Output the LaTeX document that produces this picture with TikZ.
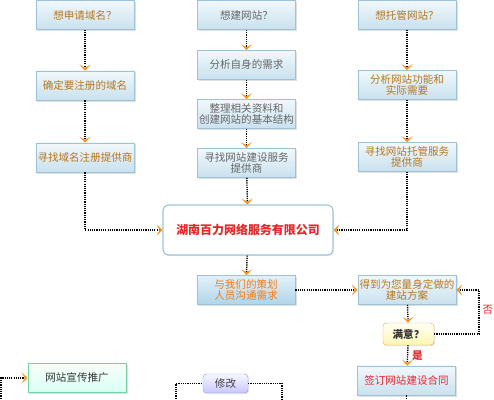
\documentclass[tikz,border=0pt]{standalone}
\usepackage{fontspec}
\setmainfont{Noto Sans CJK SC}
\usetikzlibrary{arrows.meta,shadows}

\definecolor{boxline}{HTML}{9EC3D9}
\definecolor{boxtop}{HTML}{F1F8FC}
\definecolor{boxbot}{HTML}{C8E1EE}
\definecolor{talktop}{HTML}{E3F1F9}
\definecolor{talkbot}{HTML}{AFD5EA}
\definecolor{tipc}{HTML}{F7931E}
\definecolor{brown}{HTML}{B8771C}
\definecolor{redtxt}{HTML}{E8262A}
\definecolor{orangetxt}{HTML}{F07A1A}

\tikzset{
  flow/.style={draw=black, line width=1.2pt, dash pattern=on 1pt off 0.9pt,
    -{Stealth[inset=2.6pt,length=5pt,width=9.5pt,color=tipc]}},
  dots/.style={draw=black, line width=1.2pt, dash pattern=on 1pt off 0.9pt},
  bluebox/.style={draw=boxline, top color=boxtop, bottom color=boxbot,
    minimum width=2.95cm, minimum height=0.88cm, inner sep=1pt, align=center,
    font=\fontsize{9}{9.6}\selectfont,
    drop shadow={shadow xshift=1.2pt, shadow yshift=-1.2pt, opacity=0.25, fill=gray}},
  side/.style={bluebox, text=brown},
  mid/.style={bluebox, text=black!60},
}

\begin{document}
\begin{tikzpicture}[x=0.03cm, y=-0.03cm]
  \useasboundingbox (0,0) rectangle (494,400);
  % left column
  \node[side] (dom1) at (85,15) {想申请域名？};
  \node[side] (dom2) at (85,85.5) {确定要注册的域名};
  \node[side] (dom3) at (85,157.5) {寻找域名注册提供商};
  % middle column
  \node[mid] (web1) at (246.5,15) {想建网站？};
  \node[mid] (web2) at (246.5,65) {分析自身的需求};
  \node[mid] (web3) at (246.5,114) {整理相关资料和\\创建网站的基本结构};
  \node[mid] (web4) at (246.5,163) {寻找网站建设服务\\提供商};
  % right column
  \node[side] (host1) at (407,15) {想托管网站？};
  \node[side] (host2) at (407,85) {分析网站功能和\\实际需要};
  \node[side] (host3) at (407,157) {寻找网站托管服务\\提供商};
  % company
  \node[draw=boxline, fill=white, line width=0.9pt, rounded corners=5pt,
    minimum width=5.1cm, minimum height=1.5cm, text=redtxt,
    font=\fontsize{10.2}{11}\selectfont\bfseries,
    drop shadow={shadow xshift=1pt, shadow yshift=-1pt, opacity=0.15, fill=gray}]
    (comp) at (248,230) {湖南百力网络服务有限公司};
  \node[bluebox, top color=talktop, bottom color=talkbot,
    text=orangetxt] (talk) at (246,290) {与我们的策划\\人员沟通需求};
  \node[side] (plan) at (407,290) {得到为您量身定做的\\建站方案};
  \node[draw=tipc!80, top color=yellow!4, bottom color=orange!22!yellow!30,
    rounded corners=3pt, minimum width=1.53cm, minimum height=0.66cm,
    font=\fontsize{9}{10}\selectfont\bfseries, text=black!80,
    drop shadow={shadow xshift=1pt, shadow yshift=-1pt, opacity=0.2, fill=gray}]
    (ok) at (408.5,334) {满意？};
  \node[bluebox, text=redtxt] (sign) at (406.5,380.5) {签订网站建设合同};
  \node[bluebox, draw=green!25!boxline, top color=green!3, bottom color=green!25!cyan!15,
    text=black!80] (promo) at (77,378) {网站宣传推广};
  \node[draw=blue!40, top color=blue!3, bottom color=blue!22, rounded corners=3pt,
    minimum width=1.35cm, minimum height=0.57cm, inner sep=1pt,
    font=\fontsize{9}{10}\selectfont, text=black!75,
    drop shadow={shadow xshift=1pt, shadow yshift=-1pt, opacity=0.2, fill=gray}]
    (fix) at (225.5,383.5) {修改};
  \coordinate (noturn) at (479,310);
  \coordinate (signend) at (406.5,410);
  \coordinate (promoin) at (1,378);
  \coordinate (promoend) at (1,410);
  \coordinate (fixl) at (176,410);
  \coordinate (fixr) at (282,410);

  \draw[flow] (dom1) -- (dom2);
  \draw[flow] (dom2) -- (dom3);
  \draw[flow] (dom3.south) |- (comp.west);
  \draw[flow] (web1) -- (web2);
  \draw[flow] (web2) -- (web3);
  \draw[flow] (web3) -- (web4);
  \draw[flow] (web4) -- (comp);
  \draw[flow] (host1) -- (host2);
  \draw[flow] (host2) -- (host3);
  \draw[flow] (host3.south) |- (comp.east);
  \draw[flow] (comp) -- (talk);
  \draw[flow] (talk) -- (plan);
  \draw[flow] (plan) -- (ok);
  \draw[flow] (ok.east) -| (noturn) |- (plan.east);
  \node[text=redtxt, anchor=west, inner sep=0pt, font=\fontsize{9}{10}\selectfont] (no) at (482.5,310) {否};
  \draw[flow] (ok) -- node[right, text=redtxt, font=\fontsize{9}{10}\selectfont\bfseries] (yes) {是} (sign);
  \draw[dots] (sign) -- (signend);
  \draw[flow] (promoend) -- (promoin) -- (promo.west);
  \draw[dots] (fixl) |- (fix.west);
  \draw[dots] (fix.east) -| (fixr);
\end{tikzpicture}
\end{document}
